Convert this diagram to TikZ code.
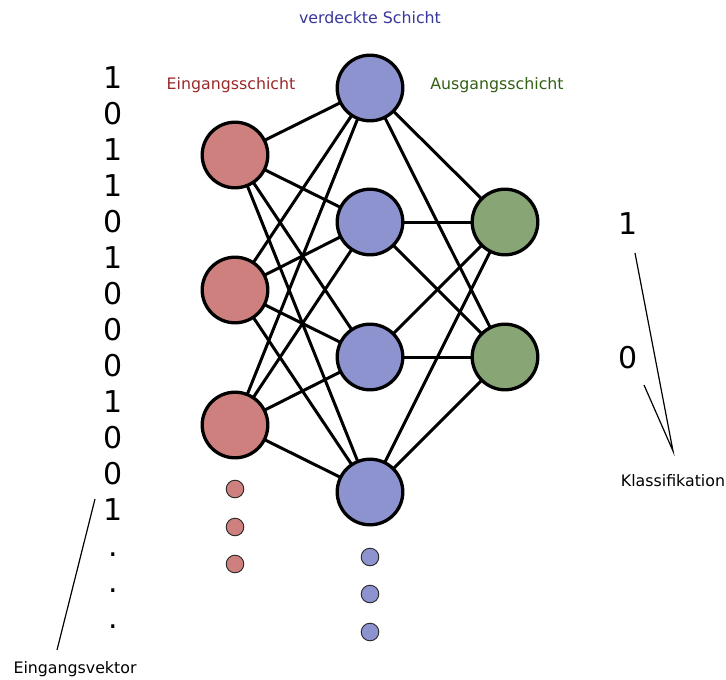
\documentclass[tikz,border=0pt]{standalone}
\usepackage{fontspec}
\setmainfont{DejaVu Sans}
\usetikzlibrary{backgrounds}
\definecolor{inred}{RGB}{205,128,126}
\definecolor{hidblue}{RGB}{141,147,207}
\definecolor{outgreen}{RGB}{136,165,118}
\definecolor{txtred}{RGB}{155,40,40}
\definecolor{txtblue}{RGB}{55,55,155}
\definecolor{txtgreen}{RGB}{50,95,20}
\tikzset{
  neuron/.style={circle,draw=black,line width=3.3pt,minimum size=65.6pt,inner sep=0pt},
  dotneuron/.style={circle,draw=black!85,line width=0.9pt,minimum size=17.6pt,inner sep=0pt},
  synapse/.style={line width=3pt},
  pointer/.style={line width=1.2pt},
  layerlabel/.style={font=\fontsize{15.8}{18}\selectfont},
  bit/.style={font=\fontsize{30}{34}\selectfont,anchor=base,inner sep=0pt},
}
\begin{document}
\begin{tikzpicture}[x=1pt,y=-1pt]
\useasboundingbox (0,0) rectangle (726,680);

% input layer
\node[neuron,fill=inred] (i1) at (235,155) {};
\node[neuron,fill=inred] (i2) at (235,290) {};
\node[neuron,fill=inred] (i3) at (235,425) {};
\node[dotneuron,fill=inred] (id1) at (235,489) {};
\node[dotneuron,fill=inred] (id2) at (235,527) {};
\node[dotneuron,fill=inred] (id3) at (235,564) {};

% hidden layer
\node[neuron,fill=hidblue] (h1) at (370,88) {};
\node[neuron,fill=hidblue] (h2) at (370,222) {};
\node[neuron,fill=hidblue] (h3) at (370,357) {};
\node[neuron,fill=hidblue] (h4) at (370,492) {};
\node[dotneuron,fill=hidblue] (hd1) at (370,557) {};
\node[dotneuron,fill=hidblue] (hd2) at (370,594) {};
\node[dotneuron,fill=hidblue] (hd3) at (370,632) {};

% output layer
\node[neuron,fill=outgreen] (o1) at (505,222) {};
\node[neuron,fill=outgreen] (o2) at (505,357) {};

% fully connected weights
\begin{scope}[on background layer]
  \foreach \a in {i1,i2,i3}
    \foreach \b in {h1,h2,h3,h4}
      \draw[synapse] (\a.center) -- (\b.center);
  \foreach \a in {h1,h2,h3,h4}
    \foreach \b in {o1,o2}
      \draw[synapse] (\a.center) -- (\b.center);
\end{scope}

% layer captions
\node[layerlabel,text=txtblue] (lh) at (370,18) {verdeckte Schicht};
\node[layerlabel,text=txtred] (li) at (231,85) {Eingangsschicht};
\node[layerlabel,text=txtgreen] (lo) at (497,85) {Ausgangsschicht};

% input vector
\foreach \v [count=\k from 0] in {1,0,1,1,0,1,0,0,0,1,0,0,1,.,.,.}
  \node[bit] (b\k) at (113,88+36*\k) {\v};

% output values
\node[bit] (r1) at (628,234) {1};
\node[bit] (r0) at (628,368) {0};

% annotations
\node[layerlabel] (ev) at (75,669) {Eingangsvektor};
\coordinate (evtop) at (95,499);
\coordinate (evbot) at (57,650);
\draw[pointer] (evtop) -- (evbot);

\node[layerlabel] (kl) at (673,481) {Klassifikation};
\coordinate (apex) at (673,451);
\coordinate (k1) at (635,253);
\coordinate (k0) at (644,385);
\draw[pointer] (k1) -- (apex) -- (k0);
\end{tikzpicture}
\end{document}
